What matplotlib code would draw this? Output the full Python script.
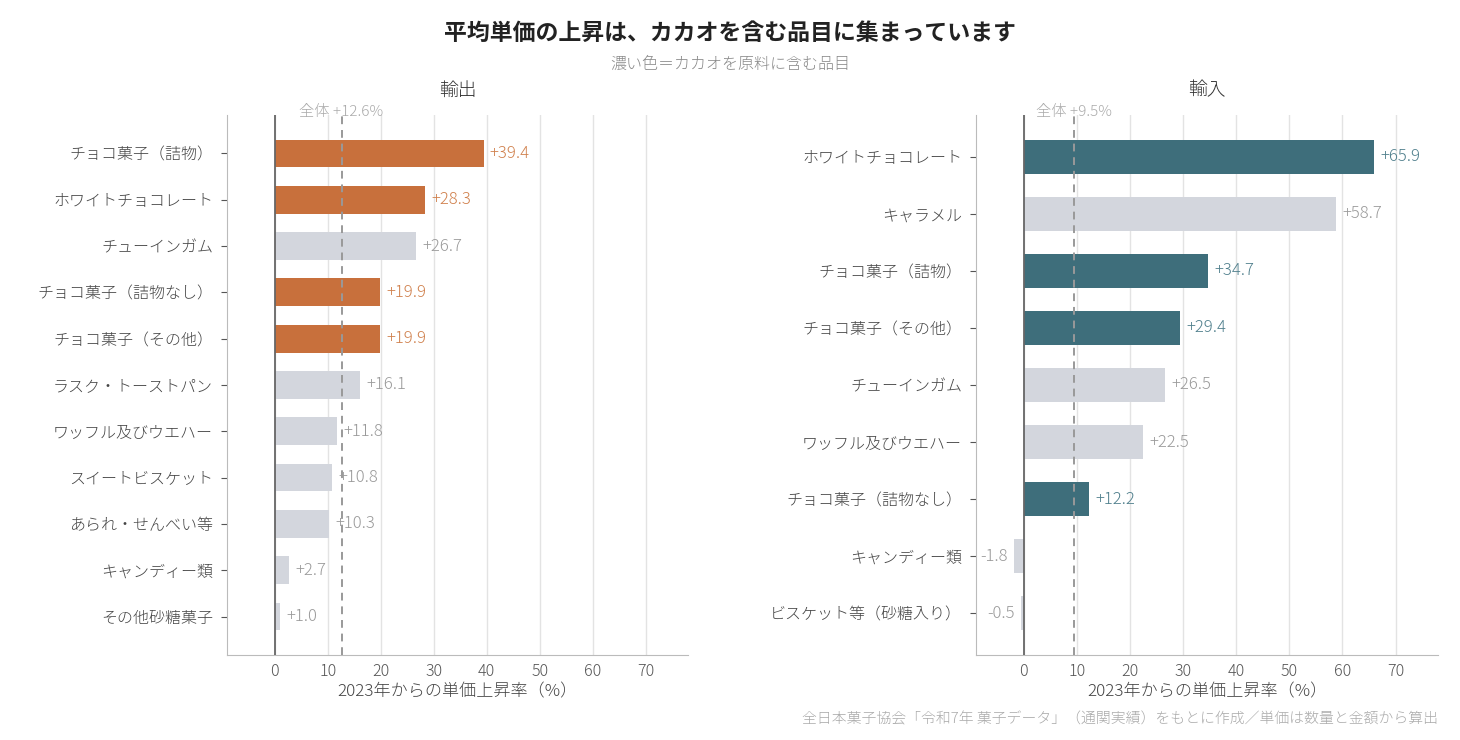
import matplotlib.pyplot as plt

plt.rcParams["font.family"] = ["Noto Sans CJK JP", "DejaVu Sans"]

export_items = ["チョコ菓子（詰物）", "ホワイトチョコレート", "チューインガム", "チョコ菓子（詰物なし）",
                "チョコ菓子（その他）", "ラスク・トーストパン", "ワッフル及びウエハー", "スイートビスケット",
                "あられ・せんべい等", "キャンディー類", "その他砂糖菓子"]
export_vals = [39.4, 28.3, 26.7, 19.9, 19.9, 16.1, 11.8, 10.8, 10.3, 2.7, 1.0]
export_cacao = [True, True, False, True, True, False, False, False, False, False, False]
export_total = 12.6

import_items = ["ホワイトチョコレート", "キャラメル", "チョコ菓子（詰物）", "チョコ菓子（その他）",
                "チューインガム", "ワッフル及びウエハー", "チョコ菓子（詰物なし）", "キャンディー類",
                "ビスケット等（砂糖入り）"]
import_vals = [65.9, 58.7, 34.7, 29.4, 26.5, 22.5, 12.2, -1.8, -0.5]
import_cacao = [True, False, True, True, False, False, True, False, False]
import_total = 9.5

GREY = "#d3d6dd"
GREY_TXT = "#9a9a9a"

fig = plt.figure(figsize=(14.6, 7.4), dpi=100)
ax1 = fig.add_axes([0.1555, 0.1149, 0.3158, 0.7297])
ax2 = fig.add_axes([0.6685, 0.1149, 0.3165, 0.7297])


def panel(ax, items, vals, cacao, total, color, txtcolor, title):
    ys = list(range(len(items)))
    cols = [color if c else GREY for c in cacao]
    ax.barh(ys, vals, height=0.6, color=cols, zorder=2)
    ax.invert_yaxis()
    ax.set_yticks(ys)
    ax.set_yticklabels(items, fontsize=11.5, color="#444444", fontweight="light")
    ax.set_xlim(-9, 78)
    ax.set_xticks(range(0, 80, 10))
    ax.tick_params(axis="x", labelsize=11.5, labelcolor="#555555", length=0, pad=6)
    ax.tick_params(axis="y", length=4, color="#555555", pad=6)
    for lab in ax.get_xticklabels():
        lab.set_fontweight("light")
    ax.grid(axis="x", color="#e3e3e3", lw=1, zorder=0)
    for s in ["top", "right"]:
        ax.spines[s].set_visible(False)
    for s in ["left", "bottom"]:
        ax.spines[s].set_color("#bbbbbb")
    ax.axvline(0, color="#666666", lw=1.3, zorder=3)
    ax.axvline(total, color="#999999", lw=1.4, ls=(0, (4, 3)), zorder=3)
    ax.text(total, 1.005, f"全体 +{total}%", transform=ax.get_xaxis_transform(),
            ha="center", va="center", fontsize=11, color="#aaaaaa", fontweight="light")
    for y, v, c in zip(ys, vals, cacao):
        tc = txtcolor if c else GREY_TXT
        if v >= 0:
            ax.text(v + 1.2, y, f"+{v}", va="center", ha="left", fontsize=12, color=tc,
                    fontweight="light")
        else:
            ax.text(v - 1.2, y, f"{v}", va="center", ha="right", fontsize=12, color=tc,
                    fontweight="light")
    ax.set_xlabel("2023年からの単価上昇率（%）", fontsize=12.3, color="#444444", labelpad=2,
                  fontweight="light")
    ax.set_title(title, fontsize=13.5, color="#333333", pad=14, fontweight="light")


panel(ax1, export_items, export_vals, export_cacao, export_total, "#c8703c", "#d0804c", "輸出")
panel(ax2, import_items, import_vals, import_cacao, import_total, "#3e6e7b", "#4f7f8c", "輸入")

fig.text(0.5, 0.955, "平均単価の上昇は、カカオを含む品目に集まっています", ha="center", va="center",
         fontsize=16.5, fontweight="bold", color="#222222")
fig.text(0.5, 0.913, "濃い色＝カカオを原料に含む品目", ha="center", va="center",
         fontsize=11.5, color="#888888", fontweight="light")
fig.text(0.985, 0.028, "全日本菓子協会「令和7年 菓子データ」（通関実績）をもとに作成／単価は数量と金額から算出",
         ha="right", va="center", fontsize=10.7, color="#aaaaaa", fontweight="light")

fig.savefig("out.png", dpi=100)
